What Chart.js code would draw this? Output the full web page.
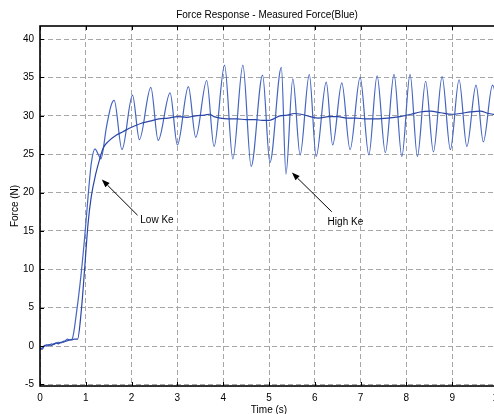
<!DOCTYPE html>
<html><head><meta charset="utf-8">
<script src="https://cdn.jsdelivr.net/npm/chart.js@4.4.0/dist/chart.umd.min.js"></script>
<style>
html,body{margin:0;padding:0;background:#fff;overflow:hidden}
#wrap{width:494px;height:414px;overflow:hidden;position:relative;background:#fff}
canvas{display:block}
</style></head>
<body><div id="wrap"><canvas id="c" width="540" height="414"></canvas></div>
<script>
const chartTitle = 'Force Response - Measured Force(Blue)';
const xLabel = 'Time (s)';
const yLabel = 'Force (N)';
const xTicks = [0,1,2,3,4,5,6,7,8,9,10];
const yTicks = [-5,0,5,10,15,20,25,30,35,40];

// Low Ke (smooth) response
const lowTime  = [0,0.05,0.1,0.15,0.2,0.25,0.3,0.35,0.4,0.45,0.5,0.55,0.6,0.65,0.7,0.75,0.82,0.9,0.98,1.05,1.12,1.22,1.3,1.38,1.5,1.67,1.8,2.0,2.2,2.4,2.6,2.8,3.0,3.2,3.4,3.6,3.7,3.8,3.93,4.1,4.3,4.5,4.7,4.85,5.0,5.1,5.24,5.4,5.55,5.7,5.9,6.08,6.3,6.5,6.7,6.9,7.1,7.35,7.6,7.86,8.1,8.3,8.52,8.75,9.0,9.17,9.4,9.61,9.8,10];
const lowForce = [-0.3,-0.4,0.1,0.0,0.2,0.1,0.3,0.4,0.3,0.5,0.5,0.6,0.7,0.8,0.8,0.9,0.9,4.5,10.5,16,19.5,22.5,24.3,25.8,26.7,27.5,27.9,28.5,29.0,29.3,29.6,29.7,29.9,29.8,30.0,30.1,30.2,29.9,29.7,29.6,29.6,29.5,29.5,29.4,29.4,29.6,30.0,30.1,30.3,30.2,29.9,29.7,29.9,29.9,29.7,29.7,29.6,29.6,29.7,29.9,30.2,30.5,30.6,30.4,30.2,30.3,30.5,30.6,30.3,30.1];

// High Ke (oscillating) response
const highTime  = [0,0.05,0.1,0.15,0.2,0.25,0.3,0.35,0.4,0.45,0.5,0.55,0.6,0.65,0.7,0.8,0.9,0.98,1.05,1.12,1.2,1.27,1.33,1.45,1.55,1.62,1.79,2.02,2.17,2.42,2.58,2.84,3.00,3.24,3.40,3.64,3.80,4.03,4.21,4.43,4.61,4.86,5.02,5.27,5.37,5.52,5.68,5.88,6.03,6.25,6.39,6.59,6.77,6.99,7.18,7.36,7.54,7.73,7.90,8.08,8.24,8.42,8.59,8.78,8.96,9.15,9.32,9.52,9.68,9.88,10];
const highForce = [-0.5,-0.2,0.0,0.2,0.1,0.3,0.2,0.4,0.5,0.4,0.6,0.7,0.9,0.8,0.9,4.5,9.5,14.5,19.5,23.8,25.7,25.0,24.4,28.5,31.3,32.0,25.6,32.7,26.9,33.7,26.8,33.0,26.2,33.8,27.2,34.6,26.0,36.6,24.4,36.6,23.4,35.3,23.9,36.3,22.4,34.8,24.9,35.4,24.7,34.4,26.2,34.3,25.6,35.0,24.9,35.2,25.2,35.4,24.7,35.4,24.7,34.5,25.3,35.1,25.6,34.7,26.0,34.0,26.6,34.0,31.5];

// Annotations (data coordinates)
const annotationLabels = ['Low Ke','High Ke'];
const annotationTipX   = [1.35, 5.50];
const annotationTipY   = [21.7, 22.6];
const annotationTailX  = [2.13, 6.37];
const annotationTailY  = [17.05, 17.5];
const annotationTextX  = [2.19, 6.28];
const annotationTextY  = [16.4, 16.1];

const FONT = '"Liberation Sans", Arial, Helvetica, sans-serif';
Chart.defaults.font.family = FONT;
Chart.defaults.font.size = 10;
Chart.defaults.color = '#000';

const toPts = (xs, ys) => xs.map((x, i) => ({x, y: ys[i]}));

const decorPlugin = {
  id: 'decor',
  afterDraw(chart) {
    const {ctx, chartArea: a, scales: {x, y}} = chart;
    ctx.save();
    // frame
    ctx.strokeStyle = '#000';
    ctx.lineWidth = 1.6;
    ctx.setLineDash([]);
    ctx.strokeRect(a.left, a.top, a.right - a.left, a.bottom - a.top);
    // inward ticks
    ctx.lineWidth = 1;
    ctx.beginPath();
    xTicks.forEach(v => {
      const px = Math.round(x.getPixelForValue(v)) + 0.5;
      ctx.moveTo(px, a.top); ctx.lineTo(px, a.top + 4);
      ctx.moveTo(px, a.bottom); ctx.lineTo(px, a.bottom - 4);
    });
    yTicks.forEach(v => {
      const py = Math.round(y.getPixelForValue(v)) + 0.5;
      ctx.moveTo(a.left, py); ctx.lineTo(a.left + 4, py);
      ctx.moveTo(a.right, py); ctx.lineTo(a.right - 4, py);
    });
    ctx.stroke();
    // title
    ctx.fillStyle = '#000';
    ctx.font = '10px ' + FONT;
    ctx.textAlign = 'center';
    ctx.textBaseline = 'middle';
    ctx.fillText(chartTitle, (a.left + a.right) / 2 - 2, 15);
    // annotations
    annotationLabels.forEach((lab, i) => {
      const tx = x.getPixelForValue(annotationTipX[i]);
      const ty = y.getPixelForValue(annotationTipY[i]);
      const sx = x.getPixelForValue(annotationTailX[i]);
      const sy = y.getPixelForValue(annotationTailY[i]);
      const ang = Math.atan2(ty - sy, tx - sx);
      const L = 8, W = 3;
      const bx = tx - L * Math.cos(ang), by = ty - L * Math.sin(ang);
      ctx.strokeStyle = '#000';
      ctx.lineWidth = 1;
      ctx.beginPath(); ctx.moveTo(sx, sy); ctx.lineTo(bx, by); ctx.stroke();
      ctx.beginPath();
      ctx.moveTo(tx, ty);
      ctx.lineTo(bx + W * Math.sin(ang), by - W * Math.cos(ang));
      ctx.lineTo(bx - W * Math.sin(ang), by + W * Math.cos(ang));
      ctx.closePath(); ctx.fill();
      ctx.textAlign = 'left';
      ctx.fillText(lab, x.getPixelForValue(annotationTextX[i]), y.getPixelForValue(annotationTextY[i]));
    });
    ctx.restore();
  }
};

new Chart(document.getElementById('c'), {
  type: 'line',
  data: {
    datasets: [
      {label: 'Low Ke', data: toPts(lowTime, lowForce), borderColor: '#2b45a8', borderWidth: 1.2, pointRadius: 0, cubicInterpolationMode: 'monotone', fill: false},
      {label: 'High Ke', data: toPts(highTime, highForce), borderColor: '#4565c0', borderWidth: 1.2, pointRadius: 0, cubicInterpolationMode: 'monotone', fill: false}
    ]
  },
  options: {
    responsive: false,
    animation: false,
    devicePixelRatio: 1,
    layout: {padding: {left: 0, right: 42, top: 26, bottom: 0}},
    plugins: {legend: {display: false}, tooltip: {enabled: false}, title: {display: false}},
    scales: {
      x: {
        type: 'linear', min: 0, max: 10,
        afterFit(s) { s.height = 28; },
        afterBuildTicks(s) { s.ticks = xTicks.map(v => ({value: v})); },
        ticks: {padding: 6, font: {size: 10}, color: '#000', maxRotation: 0, autoSkip: false},
        grid: {color: '#a6a6a6', lineWidth: 1, drawTicks: false},
        border: {display: false, dash: [5, 3]},
        title: {display: true, text: xLabel, font: {size: 10, lineHeight: 0.8}, padding: {top: 0, bottom: 0}, color: '#000'}
      },
      y: {
        type: 'linear', min: -5.2, max: 41.7,
        afterFit(s) { s.width = 40; },
        afterBuildTicks(s) { s.ticks = yTicks.map(v => ({value: v})); },
        ticks: {padding: 6, font: {size: 10}, color: '#000', autoSkip: false},
        grid: {color: '#a6a6a6', lineWidth: 1, drawTicks: false},
        border: {display: false, dash: [5, 3]},
        title: {display: true, text: yLabel, font: {size: 10, lineHeight: 1.2}, padding: {top: 9.5, bottom: 0}, color: '#000'}
      }
    }
  },
  plugins: [decorPlugin]
});
</script>
</body></html>
